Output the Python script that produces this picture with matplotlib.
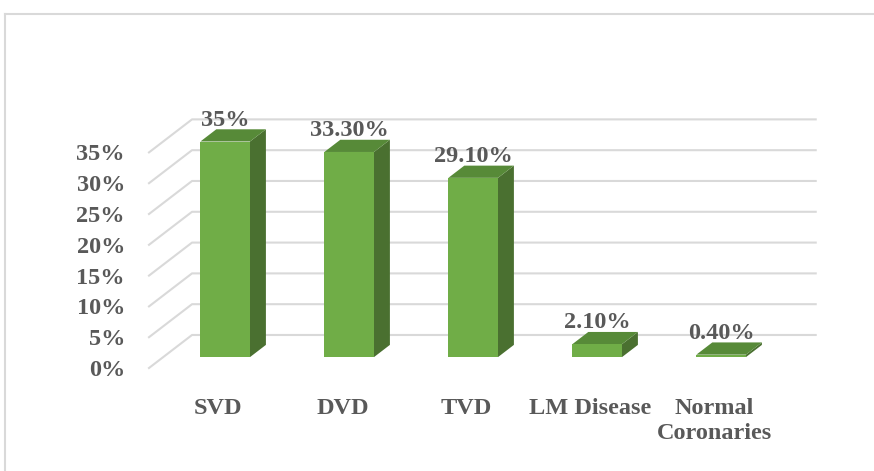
import matplotlib.pyplot as plt
from matplotlib.patches import Polygon
from matplotlib.lines import Line2D

categories = ["SVD", "DVD", "TVD", "LM Disease", "Normal\nCoronaries"]
values = [35, 33.3, 29.1, 2.1, 0.4]
value_labels = ["35%", "33.30%", "29.10%", "2.10%", "0.40%"]
yticks = [0, 5, 10, 15, 20, 25, 30, 35]

# fake 3D depth: x in category units, y in percent
dx = 0.347
dy = 5.36
z0, z1 = 0.33, 0.70   # bar front / back depth
half_w = 0.2

front_col = "#70AD47"
top_col = "#578A38"
side_col = "#4A7030"
grid_col = "#D9D9D9"
txt_col = "#595959"
fs = 17.5

plt.rcParams['font.family'] = ['Liberation Serif', 'DejaVu Serif']
plt.rcParams['font.weight'] = 'bold'


def proj(x, y, z):
    return (x + z * dx, y + z * dy)


fig = plt.figure(figsize=(8.74, 4.71), dpi=100)
ax = fig.add_axes([0, 0, 1, 1])
ax.set_xlim(-1.7016, 5.347)
ax.set_ylim(-16.72, 59.74)
ax.axis('off')

# walls / gridlines
for t in yticks:
    p0 = proj(-0.5, t, 0)
    p1 = proj(-0.5, t, 1)
    p2 = proj(4.53, t, 1)
    ax.plot([p0[0], p1[0], p2[0]], [p0[1], p1[1], p2[1]], color=grid_col, lw=1.5, zorder=1)
    ax.text(-0.694, t - 0.4, f"{t}%", ha='right', va='center', fontsize=fs, color=txt_col)

# bars
for i, v in enumerate(values):
    x0, x1 = i - half_w, i + half_w
    front = [proj(x0, 0, z0), proj(x1, 0, z0), proj(x1, v, z0), proj(x0, v, z0)]
    side = [proj(x1, 0, z0), proj(x1, 0, z1), proj(x1, v, z1), proj(x1, v, z0)]
    top = [proj(x0, v, z0), proj(x1, v, z0), proj(x1, v, z1), proj(x0, v, z1)]
    ax.add_patch(Polygon(side, closed=True, fc=side_col, ec='none', zorder=2))
    ax.add_patch(Polygon(top, closed=True, fc=top_col, ec='none', zorder=2))
    ax.add_patch(Polygon(front, closed=True, fc=front_col, ec='none', zorder=3))
    ax.text(i + z0 * dx, v + z1 * dy - 0.2, value_labels[i], ha='center', va='bottom',
            fontsize=fs, color=txt_col, zorder=4)
    ax.text(i + 0.06, -4.9, categories[i], ha='center', va='top', fontsize=fs,
            color=txt_col, linespacing=1.25)

# chart border (top and left only visible)
fig.add_artist(Line2D([5 / 874, 1], [1 - 14 / 471, 1 - 14 / 471], color=grid_col, lw=1.5,
                      transform=fig.transFigure))
fig.add_artist(Line2D([5 / 874, 5 / 874], [1 - 14 / 471, 0], color=grid_col, lw=1.5,
                      transform=fig.transFigure))

fig.savefig("out.png", dpi=100)
